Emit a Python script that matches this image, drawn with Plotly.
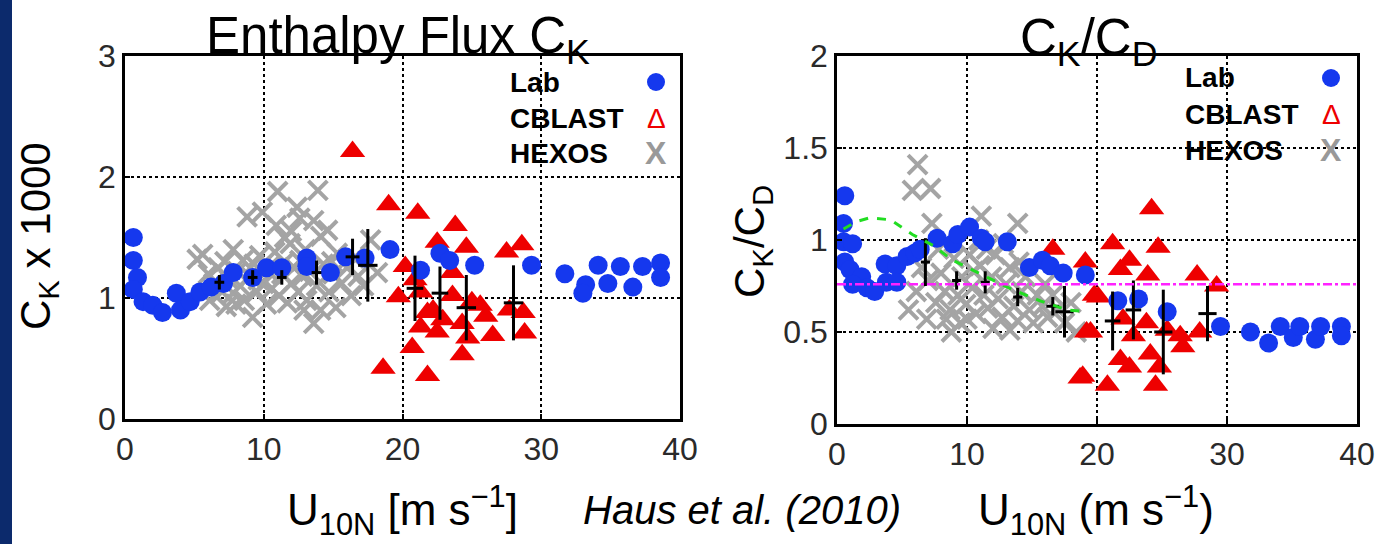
import plotly.graph_objects as go

W, H = 1391, 544

# ---------------- data: left panel (C_K x 1000) ----------------
lab_L_x = [0.6, 0.6, 0.9, 0.6, 1.3, 2.0, 2.7, 3.7, 4.0, 4.7, 5.4, 6.2, 7.1, 7.8, 9.2, 10.2, 11.3,
           13.1, 13.1, 14.8, 15.9, 17.3, 19.1, 21.3, 22.7, 23.4, 25.2, 29.3, 31.7, 33.2, 33.0,
           34.1, 34.8, 35.7, 36.6, 37.3, 38.6, 38.6]
lab_L_y = [1.50, 1.31, 1.17, 1.07, 0.97, 0.94, 0.88, 1.04, 0.90, 0.97, 1.05, 1.09, 1.12, 1.21, 1.17,
           1.25, 1.25, 1.33, 1.26, 1.21, 1.34, 1.33, 1.40, 1.23, 1.37, 1.31, 1.27, 1.27, 1.20, 1.11,
           1.04, 1.27, 1.12, 1.26, 1.09, 1.26, 1.29, 1.17]

cb_L_x = [16.4, 19.0, 21.1, 23.8, 22.5, 24.6, 27.5, 28.6, 20.2, 19.7, 23.6, 23.6, 25.0, 25.6,
          21.8, 22.9, 21.3, 22.5, 24.3, 24.7, 26.5, 28.7, 28.8, 27.7, 20.7, 24.3, 18.6, 21.8,
          20.9, 22.2, 21.3, 26.0]
cb_L_y = [2.21, 1.77, 1.70, 1.60, 1.46, 1.42, 1.38, 1.44, 1.26, 1.01, 1.21, 1.02, 0.97, 0.94,
          0.88, 0.82, 0.76, 0.72, 0.79, 0.67, 0.69, 0.88, 0.71, 0.90, 0.59, 0.53, 0.42, 0.36,
          1.15, 0.90, 1.05, 0.85]

hx_L_x = [5.2, 5.6, 6.0, 6.1, 6.4, 6.7, 7.0, 7.2, 7.5, 7.8, 7.8, 8.1, 8.3, 8.5, 8.6, 8.8, 9.0, 9.2,
          9.3, 9.5, 9.7, 9.9, 10.0, 10.2, 10.4, 10.6, 10.8, 11.0, 11.1, 11.3, 11.5, 11.7, 11.9,
          12.0, 12.2, 12.4, 12.5, 12.6, 12.6, 12.8, 13.0, 13.1, 13.3, 13.6, 13.6, 13.8, 13.9,
          14.1, 14.1, 14.3, 14.6, 14.7, 15.0, 15.3, 15.2, 15.6, 16.0, 16.3, 16.8, 17.2, 17.7,
          18.2, 10.5, 9.6, 8.0, 7.3, 12.9, 14.9, 16.5, 11.5, 10.9, 12.0]
hx_L_y = [1.32, 1.36, 1.20, 0.98, 1.12, 1.25, 1.05, 1.30, 1.15, 1.40, 1.04, 1.22, 1.10, 1.31,
          0.98, 1.67, 1.18, 0.84, 1.28, 1.05, 1.35, 1.71, 1.12, 0.95, 1.26, 1.08, 1.38, 1.88,
          1.02, 1.20, 1.30, 0.96, 1.45, 1.12, 1.25, 1.75, 1.05, 1.31, 1.66, 1.18, 1.40, 0.98,
          1.22, 1.64, 0.79, 1.10, 1.89, 1.51, 0.90, 1.28, 1.56, 1.05, 1.20, 1.37, 0.92, 1.12,
          1.25, 1.02, 1.18, 1.10, 1.48, 1.21, 1.20, 1.15, 0.95, 0.93, 0.90, 1.30, 1.33, 1.50,
          1.60, 1.55]

eb_L_x = [6.8, 9.2, 11.3, 13.8, 16.4, 17.5, 20.9, 22.7, 24.6, 28.0]
eb_L_y = [1.13, 1.17, 1.17, 1.21, 1.34, 1.27, 1.08, 1.04, 0.92, 0.96]
eb_L_ey = [0.06, 0.06, 0.06, 0.10, 0.15, 0.30, 0.27, 0.22, 0.27, 0.31]
eb_L_ex = [0.35, 0.35, 0.35, 0.35, 0.5, 0.7, 0.6, 0.6, 0.7, 0.7]

# ---------------- data: right panel (C_K / C_D) ----------------
lab_R_x = [0.6, 0.5, 0.5, 1.2, 0.6, 1.0, 1.9, 1.2, 2.3, 2.9, 3.8, 3.7, 4.6, 4.6, 5.4, 6.0, 6.4,
           7.7, 8.9, 9.3, 10.2, 11.1, 11.4, 13.1, 14.8, 15.8, 16.4, 17.4, 19.1, 21.6, 23.2,
           25.4, 29.5, 31.8, 33.2, 34.1, 35.1, 35.6, 36.8, 37.2, 38.8, 38.8]
lab_R_y = [1.24, 1.09, 0.99, 0.98, 0.88, 0.84, 0.80, 0.76, 0.74, 0.72, 0.77, 0.87, 0.86, 0.77,
           0.91, 0.93, 0.95, 1.01, 0.98, 1.03, 1.07, 1.01, 0.99, 0.99, 0.85, 0.89, 0.86, 0.82,
           0.81, 0.67, 0.68, 0.61, 0.53, 0.50, 0.44, 0.53, 0.47, 0.53, 0.46, 0.53, 0.53, 0.48]

cb_R_x = [24.2, 21.2, 24.7, 22.5, 21.8, 23.9, 27.7, 29.2, 20.1, 22.0, 23.8, 19.2, 22.8, 26.4,
          26.6, 27.9, 21.8, 24.1, 22.5, 24.8, 18.9, 20.8, 24.5, 25.4, 16.6, 19.1, 19.8, 19.5,
          18.7]
cb_R_y = [1.17, 0.98, 0.96, 0.89, 0.84, 0.81, 0.81, 0.75, 0.69, 0.57, 0.55, 0.50, 0.48, 0.48,
          0.42, 0.50, 0.35, 0.38, 0.31, 0.31, 0.26, 0.21, 0.21, 0.51, 0.95, 0.88, 0.70, 0.50,
          0.25]

hx_R_x = [6.2, 5.8, 7.2, 7.3, 11.1, 13.9, 6.9, 8.4, 10.0, 13.3, 18.4, 6.1, 5.5, 6.5, 7.0, 7.6,
          8.0, 8.3, 8.7, 9.0, 9.3, 9.6, 9.9, 10.2, 10.4, 10.7, 11.0, 11.3, 11.6, 11.9, 12.2,
          12.4, 12.7, 13.0, 13.3, 13.6, 13.9, 14.2, 14.5, 14.8, 15.1, 15.4, 15.8, 16.2, 16.6,
          17.0, 17.5, 18.0, 10.5, 11.5, 12.0, 9.5, 8.8, 14.0, 16.0, 7.8, 12.8, 10.9]
hx_R_y = [1.41, 1.27, 1.28, 1.09, 1.13, 1.09, 0.57, 0.57, 0.57, 0.51, 0.50, 0.72, 0.62, 0.85,
          0.78, 0.66, 0.82, 0.72, 0.62, 0.90, 0.70, 0.80, 0.65, 0.92, 0.74, 0.60, 0.86, 0.70,
          0.63, 0.80, 0.92, 0.68, 0.58, 0.76, 0.85, 0.64, 0.56, 0.72, 0.80, 0.62, 0.55, 0.70,
          0.64, 0.58, 0.70, 0.62, 0.55, 0.66, 0.83, 0.95, 0.52, 0.55, 0.50, 0.88, 0.76, 0.95,
          0.98, 1.00]

eb_R_x = [6.8, 9.2, 11.4, 13.9, 16.6, 17.5, 21.2, 22.8, 25.1, 28.5]
eb_R_y = [0.88, 0.78, 0.77, 0.69, 0.64, 0.61, 0.56, 0.62, 0.50, 0.60]
eb_R_ey = [0.13, 0.05, 0.06, 0.05, 0.05, 0.14, 0.16, 0.16, 0.23, 0.15]
eb_R_ex = [0.35, 0.35, 0.35, 0.35, 0.5, 0.7, 0.6, 0.6, 0.7, 0.7]

fit_x = [0.5, 1.5, 2.5, 4.1, 5.8, 7.4, 8.9, 11.2, 13.5, 15.6, 17.7, 19.2]
fit_y = [1.06, 1.10, 1.12, 1.11, 1.03, 0.97, 0.89, 0.81, 0.73, 0.67, 0.62, 0.61]

ref_x = [0, 40]
ref_y = [0.76, 0.76]

# ---------------- styles ----------------
BLUE = "#1538ee"
RED = "#ee0000"
GRAY = "#a4a4a4"
FONT = "Liberation Sans, Arial, Helvetica, sans-serif"

fig = go.Figure()


def add_panel(xa, ya, hx, hy, cx, cy, lx, ly, ex, ey, eex, eey):
    fig.add_trace(go.Scatter(x=hx, y=hy, mode="markers", xaxis=xa, yaxis=ya,
                             marker=dict(symbol="x-thin-open", size=19, color=GRAY,
                                         line=dict(width=4, color=GRAY))))
    fig.add_trace(go.Scatter(x=cx, y=cy, mode="markers", xaxis=xa, yaxis=ya,
                             marker=dict(symbol="triangle-up", size=22, color=RED,
                                         line=dict(width=0))))
    fig.add_trace(go.Scatter(x=lx, y=ly, mode="markers", xaxis=xa, yaxis=ya,
                             marker=dict(symbol="circle", size=19, color=BLUE,
                                         line=dict(width=0))))
    fig.add_trace(go.Scatter(x=ex, y=ey, mode="markers", xaxis=xa, yaxis=ya,
                             marker=dict(size=1, color="black"),
                             error_y=dict(type="data", array=eey, color="black",
                                          thickness=3, width=0),
                             error_x=dict(type="data", array=eex, color="black",
                                          thickness=3, width=0)))


add_panel("x", "y", hx_L_x, hx_L_y, cb_L_x, cb_L_y, lab_L_x, lab_L_y,
          eb_L_x, eb_L_y, eb_L_ex, eb_L_ey)
add_panel("x2", "y2", hx_R_x, hx_R_y, cb_R_x, cb_R_y, lab_R_x, lab_R_y,
          eb_R_x, eb_R_y, eb_R_ex, eb_R_ey)

fig.add_trace(go.Scatter(x=fit_x, y=fit_y, mode="lines", xaxis="x2", yaxis="y2",
                         line=dict(color="#22dd22", width=3, dash="dash")))
fig.add_trace(go.Scatter(x=ref_x, y=ref_y, mode="lines", xaxis="x2", yaxis="y2",
                         line=dict(color="#ff22ff", width=2.5, dash="dashdot")))


def px(x):
    return x / W


def py(y):
    return 1 - y / H


axis_common = dict(showgrid=True, gridcolor="black", griddash="dot", gridwidth=2,
                   showline=True, linecolor="black", linewidth=2.5, mirror=True,
                   ticks="inside", ticklen=5, tickwidth=1.5, tickcolor="black",
                   zeroline=False, fixedrange=True, automargin=False,
                   tickfont=dict(family=FONT, size=32, color="#2a2a2a"))

fig.update_layout(
    width=W, height=H, autosize=False,
    margin=dict(l=0, r=0, t=0, b=0, pad=0, autoexpand=False),
    paper_bgcolor="white", plot_bgcolor="white", showlegend=False,
    xaxis=dict(domain=[px(125), px(680)], range=[0, 40], tickvals=[0, 10, 20, 30, 40],
               anchor="y", **axis_common),
    yaxis=dict(domain=[py(419), py(56)], range=[0, 3], tickvals=[0, 1, 2, 3],
               anchor="x", **axis_common),
    xaxis2=dict(domain=[px(837), px(1357)], range=[0, 40], tickvals=[0, 10, 20, 30, 40],
                anchor="y2", **axis_common),
    yaxis2=dict(domain=[py(424), py(56)], range=[0, 2], tickvals=[0, 0.5, 1, 1.5, 2],
                ticktext=["0", "0.5", "1", "1.5", "2"], anchor="x2", **axis_common),
)

ann = []


def text(x, y, s, size, color="black", xanchor="center", angle=0, bold=False, italic=False):
    if bold:
        s = "<b>" + s + "</b>"
    if italic:
        s = "<i>" + s + "</i>"
    ann.append(dict(x=px(x), y=py(y), xref="paper", yref="paper", text=s, showarrow=False,
                    xanchor=xanchor, yanchor="middle", textangle=angle,
                    font=dict(family=FONT, size=size, color=color)))


# titles
text(398, 40, "Enthalpy Flux C<sub>K</sub>", 51)
text(1088, 42, "C<sub>K</sub>/C<sub>D</sub>", 51)
# axis titles
text(38, 236, "C<sub>K</sub> x 1000", 42, angle=-90)
text(752, 242, "C<sub>K</sub>/C<sub>D</sub>", 42, angle=-90)
text(403, 510, "U<sub>10N</sub> [m s<sup>−1</sup>]", 44)
text(1096, 510, "U<sub>10N</sub> (m s<sup>−1</sup>)", 44)
text(742, 510, "Haus et al. (2010)", 40, italic=True)

# legends (text + symbol)
for (x0, xs, ys) in [(508, 656, [82, 118, 153]), (1183, 1331, [78, 114, 150])]:
    text(x0, ys[0], "Lab", 28, xanchor="left", bold=True)
    text(x0, ys[1], "CBLAST", 28, xanchor="left", bold=True)
    text(x0, ys[2], "HEXOS", 28, xanchor="left", bold=True)
    text(xs, ys[1], "Δ", 28, color=RED)
    text(xs, ys[2], "X", 32, color="#999999", bold=True)

fig.update_layout(annotations=ann)

shapes = [
    dict(type="rect", xref="paper", yref="paper", x0=0, x1=px(12), y0=0, y1=1,
         fillcolor="#0c2a6c", line=dict(width=0), layer="above"),
]
for (xs, ys) in [(656, 82), (1331, 78)]:
    shapes.append(dict(type="circle", xref="paper", yref="paper",
                       x0=px(xs - 9), x1=px(xs + 9), y0=py(ys + 9), y1=py(ys - 9),
                       fillcolor=BLUE, line=dict(width=0)))
fig.update_layout(shapes=shapes)

fig.write_html("out.html",
               post_script="document.body.style.margin='0px';"
                           "document.body.style.overflow='hidden';")
